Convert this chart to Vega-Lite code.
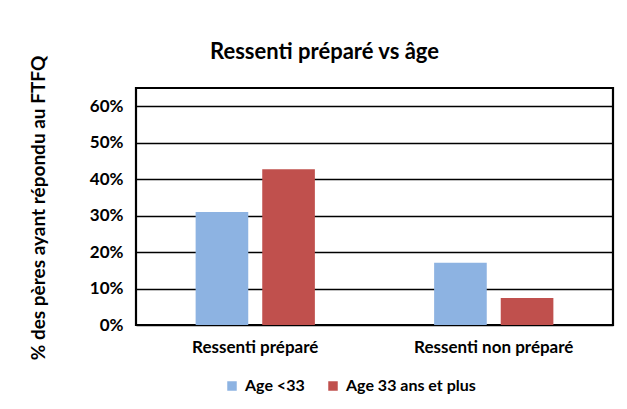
{
  "$schema": "https://vega.github.io/schema/vega-lite/v6.json",
  "width": 477,
  "height": 237,
  "autosize": {"type": "none"},
  "padding": {"left": 136, "top": 88, "right": 14, "bottom": 84},
  "background": "white",
  "data": {
    "values": [
      {"categorie": "Ressenti préparé", "groupe": "Age <33", "valeur": 0.31},
      {"categorie": "Ressenti préparé", "groupe": "Age 33 ans et plus", "valeur": 0.427},
      {"categorie": "Ressenti non préparé", "groupe": "Age <33", "valeur": 0.171},
      {"categorie": "Ressenti non préparé", "groupe": "Age 33 ans et plus", "valeur": 0.074}
    ]
  },
  "title": {
    "text": "Ressenti préparé vs âge",
    "font": "Lato",
    "fontSize": 22,
    "fontWeight": "bold",
    "color": "black",
    "anchor": "middle",
    "frame": "group",
    "baseline": "bottom",
    "offset": -9,
    "dy": 22,
    "dx": -50
  },
  "mark": {"type": "bar"},
  "encoding": {
    "x": {
      "field": "categorie",
      "type": "nominal",
      "sort": ["Ressenti préparé", "Ressenti non préparé"],
      "scale": {"paddingInner": 0.5, "paddingOuter": 0.25},
      "axis": {
        "title": null,
        "labelAngle": 0,
        "ticks": false,
        "domain": false,
        "labelFont": "Lato",
        "labelFontSize": 17,
        "labelFontWeight": "bold",
        "labelColor": "black",
        "labelPadding": 14
      }
    },
    "xOffset": {
      "field": "groupe",
      "type": "nominal",
      "sort": ["Age <33", "Age 33 ans et plus"],
      "scale": {"paddingInner": 0.21}
    },
    "y": {
      "field": "valeur",
      "type": "quantitative",
      "scale": {"domain": [0, 0.65], "nice": false},
      "axis": {
        "title": "% des pères ayant répondu au FTFQ",
        "titleFont": "Lato",
        "titleFontSize": 19,
        "titleFontWeight": "bold",
        "titleColor": "black",
        "titleX": -98,
        "titleY": 119.5,
        "titleAlign": "center",
        "titleBaseline": "middle",
        "titleAngle": -90,
        "values": [0, 0.1, 0.2, 0.3, 0.4, 0.5, 0.6],
        "format": ".0%",
        "ticks": false,
        "domain": false,
        "grid": true,
        "gridColor": "black",
        "gridWidth": 1.6,
        "gridOpacity": 1,
        "labelFont": "Lato",
        "labelFontSize": 17,
        "labelFontWeight": "bold",
        "labelColor": "black",
        "labelPadding": 13
      }
    },
    "color": {
      "field": "groupe",
      "type": "nominal",
      "sort": ["Age <33", "Age 33 ans et plus"],
      "scale": {"domain": ["Age <33", "Age 33 ans et plus"], "range": ["#8DB3E2", "#C0504D"]},
      "legend": {
        "title": null,
        "orient": "none",
        "legendX": 88,
        "legendY": 290,
        "direction": "horizontal",
        "symbolType": "square",
        "symbolSize": 90,
        "symbolStrokeWidth": 0,
        "labelFont": "Lato",
        "labelFontSize": 16,
        "labelFontWeight": "bold",
        "labelColor": "black",
        "labelOffset": 5,
        "columnPadding": 20
      }
    }
  },
  "config": {
    "view": {"stroke": "black", "strokeWidth": 2.2}
  }
}
